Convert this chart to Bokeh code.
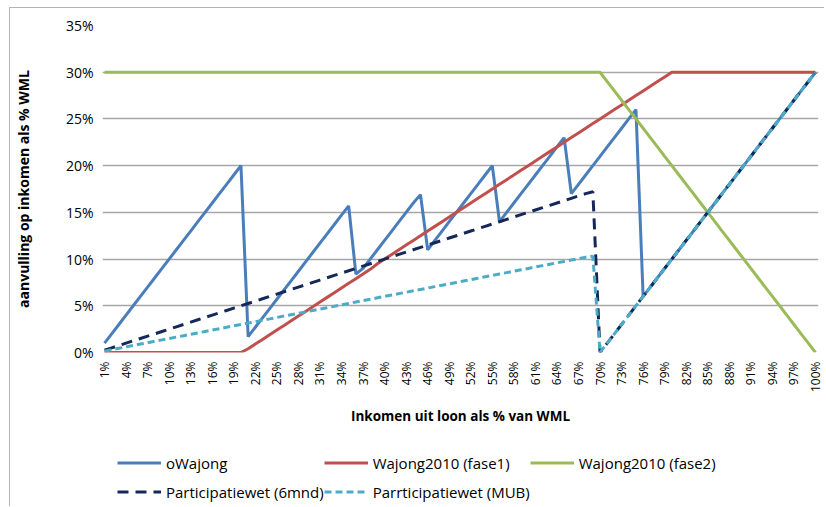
from bokeh.plotting import figure
from bokeh.layouts import column
from bokeh.models import (Range1d, FixedTicker, Legend, LegendItem, PrintfTickFormatter)
from bokeh.embed import file_html
from bokeh.resources import INLINE

# categories: income from wages as % of WML (1% .. 100%)
income_pct = list(range(1, 101))
x_ticks = [1, 4, 7, 10, 13, 16, 19, 22, 25, 28, 31, 34, 37, 40, 43, 46, 49, 52, 55,
           58, 61, 64, 67, 70, 73, 76, 79, 82, 85, 88, 91, 94, 97, 100]
y_ticks = [0, 5, 10, 15, 20, 25, 30, 35]

owajong = [
    1, 2, 3, 4, 5, 6, 7, 8, 9, 10, 11, 12, 13, 14, 15, 16, 17, 18, 19, 20,
    1.7, 2.7, 3.7, 4.7, 5.7, 6.7, 7.7, 8.7, 9.7, 10.7, 11.7, 12.7, 13.7, 14.7, 15.7,
    8.4, 9.0, 10.0, 11.0, 12.0, 13.0, 14.0, 15.0, 16.0, 16.9,
    11.0, 12.0, 13.0, 14.0, 15.0, 16.0, 17.0, 18.0, 19.0, 20.0,
    14.0, 15.0, 16.0, 17.0, 18.0, 19.0, 20.0, 21.0, 22.0, 23.0,
    17.0, 18.0, 19.0, 20.0, 21.0, 22.0, 23.0, 24.0, 25.0, 26.0,
    6, 7, 8, 9, 10, 11, 12, 13, 14, 15, 16, 17, 18, 19, 20, 21, 22, 23, 24, 25,
    26, 27, 28, 29, 30]

wajong2010_fase1 = [
    0, 0, 0, 0, 0, 0, 0, 0, 0, 0, 0, 0, 0, 0, 0, 0, 0, 0, 0, 0,
    0.4, 0.9, 1.4, 1.9, 2.4, 2.9, 3.4, 3.9, 4.4, 4.9, 5.4, 5.9, 6.4, 6.9, 7.4,
    7.9, 8.4, 8.9, 9.5, 10.0, 10.5, 11.0, 11.5, 12.0, 12.5, 13.0, 13.5, 14.0, 14.5, 15.0,
    15.5, 16.0, 16.5, 17.0, 17.5, 18.0, 18.5, 19.0, 19.5, 20.0, 20.5, 21.0, 21.5, 22.0, 22.5,
    23.0, 23.5, 24.0, 24.5, 25.0, 25.5, 26.0, 26.5, 27.0, 27.5, 28.0, 28.5, 29.0, 29.5, 30.0,
    30, 30, 30, 30, 30, 30, 30, 30, 30, 30, 30, 30, 30, 30, 30, 30, 30, 30, 30, 30]

wajong2010_fase2 = [
    30, 30, 30, 30, 30, 30, 30, 30, 30, 30, 30, 30, 30, 30, 30, 30, 30, 30, 30, 30,
    30, 30, 30, 30, 30, 30, 30, 30, 30, 30, 30, 30, 30, 30, 30, 30, 30, 30, 30, 30,
    30, 30, 30, 30, 30, 30, 30, 30, 30, 30, 30, 30, 30, 30, 30, 30, 30, 30, 30, 30,
    30, 30, 30, 30, 30, 30, 30, 30, 30, 30,
    29, 28, 27, 26, 25, 24, 23, 22, 21, 20, 19, 18, 17, 16, 15, 14, 13, 12, 11, 10,
    9, 8, 7, 6, 5, 4, 3, 2, 1, 0]

participatiewet_6mnd = [
    0.25, 0.5, 0.75, 1.0, 1.25, 1.5, 1.75, 2.0, 2.25, 2.5,
    2.75, 3.0, 3.25, 3.5, 3.75, 4.0, 4.25, 4.5, 4.75, 5.0,
    5.25, 5.5, 5.75, 6.0, 6.25, 6.5, 6.75, 7.0, 7.25, 7.5,
    7.75, 8.0, 8.25, 8.5, 8.75, 9.0, 9.25, 9.5, 9.75, 10.0,
    10.25, 10.5, 10.75, 11.0, 11.25, 11.5, 11.75, 12.0, 12.25, 12.5,
    12.75, 13.0, 13.25, 13.5, 13.75, 14.0, 14.25, 14.5, 14.75, 15.0,
    15.25, 15.5, 15.75, 16.0, 16.25, 16.5, 16.75, 17.0, 17.2,
    0, 1, 2, 3, 4, 5, 6, 7, 8, 9, 10, 11, 12, 13, 14, 15, 16, 17, 18, 19, 20,
    21, 22, 23, 24, 25, 26, 27, 28, 29, 30]

participatiewet_mub = [
    0.15, 0.3, 0.45, 0.6, 0.75, 0.9, 1.05, 1.2, 1.35, 1.5,
    1.65, 1.8, 1.95, 2.1, 2.25, 2.4, 2.55, 2.7, 2.85, 3.0,
    3.15, 3.3, 3.45, 3.6, 3.75, 3.9, 4.05, 4.2, 4.35, 4.5,
    4.65, 4.8, 4.95, 5.1, 5.25, 5.4, 5.55, 5.7, 5.85, 6.0,
    6.15, 6.3, 6.45, 6.6, 6.75, 6.9, 7.05, 7.2, 7.35, 7.5,
    7.65, 7.8, 7.95, 8.1, 8.25, 8.4, 8.55, 8.7, 8.85, 9.0,
    9.15, 9.3, 9.45, 9.6, 9.75, 9.9, 10.05, 10.2, 10.3,
    0, 1, 2, 3, 4, 5, 6, 7, 8, 9, 10, 11, 12, 13, 14, 15, 16, 17, 18, 19, 20,
    21, 22, 23, 24, 25, 26, 27, 28, 29, 30]

series_names = ["oWajong", "Wajong2010 (fase1)", "Wajong2010 (fase2)",
                "Participatiewet (6mnd)", "Parrticipatiewet (MUB)"]
series_values = [owajong, wajong2010_fase1, wajong2010_fase2,
                 participatiewet_6mnd, participatiewet_mub]
series_colors = ["#4a7ebb", "#c0504d", "#9bbb59", "#14285a", "#4bacc6"]
series_dash = ["solid", "solid", "solid", "11 7", "7 4"]

FONT = "Open Sans"

p = figure(width=814, height=422, output_backend="svg", toolbar_location=None,
           x_range=Range1d(0.72, 100.42), y_range=Range1d(0, 35),
           min_border_left=89, min_border_right=6, min_border_top=17, min_border_bottom=78)
p.outline_line_color = None
p.background_fill_color = "white"
p.border_fill_color = "white"

# axes
p.xaxis.ticker = FixedTicker(ticks=x_ticks)
p.xaxis.formatter = PrintfTickFormatter(format="%d%%")
p.xaxis.major_label_orientation = 1.5707963
p.xaxis.major_label_text_font = FONT
p.xaxis.major_label_text_font_size = "12px"
p.xaxis.major_label_text_color = "#000000"
p.xaxis.major_label_standoff = 9
p.xaxis.major_tick_out = 0
p.xaxis.major_tick_in = 0
p.xaxis.minor_tick_out = 0
p.xaxis.minor_tick_in = 0
p.xaxis.axis_line_color = None
p.xaxis.axis_label = "Inkomen uit loon als % van WML"
p.xaxis.axis_label_text_font = FONT
p.xaxis.axis_label_text_font_style = "bold"
p.xaxis.axis_label_text_font_size = "13.5px"
p.xaxis.axis_label_text_color = "#000000"
p.xaxis.axis_label_standoff = 12

p.yaxis.ticker = FixedTicker(ticks=y_ticks)
p.yaxis.formatter = PrintfTickFormatter(format="%d%%")
p.yaxis.major_label_text_font = FONT
p.yaxis.major_label_text_font_size = "14px"
p.yaxis.major_label_text_color = "#000000"
p.yaxis.major_label_standoff = 9
p.yaxis.major_tick_out = 0
p.yaxis.major_tick_in = 0
p.yaxis.minor_tick_out = 0
p.yaxis.minor_tick_in = 0
p.yaxis.axis_line_color = None
p.yaxis.axis_label = "aanvulling op inkomen als % WML"
p.yaxis.axis_label_text_font = FONT
p.yaxis.axis_label_text_font_style = "bold"
p.yaxis.axis_label_text_font_size = "14px"
p.yaxis.axis_label_text_color = "#000000"
p.yaxis.axis_label_standoff = 30

p.xgrid.grid_line_color = None
p.ygrid.ticker = FixedTicker(ticks=y_ticks)
p.ygrid.grid_line_color = "#a6a6a6"
p.ygrid.grid_line_width = 1.3

# series
for vals, col, dash in zip(series_values, series_colors, series_dash):
    p.line(income_pct, vals, line_color=col, line_width=3, line_dash=dash)

# legend strip below the chart (series drawn out of view, only the legend shows)
lg = figure(width=814, height=76, output_backend="svg", toolbar_location=None,
            x_range=Range1d(-2, -1), y_range=Range1d(0, 35),
            x_axis_type=None, y_axis_type=None,
            min_border_left=0, min_border_right=0, min_border_top=0, min_border_bottom=0)
lg.outline_line_color = None
lg.grid.grid_line_color = None
lg.border_fill_color = "white"
items = []
for name, vals, col, dash in zip(series_names, series_values, series_colors, series_dash):
    r = lg.line(income_pct, vals, line_color=col, line_width=3, line_dash=dash)
    items.append(LegendItem(label=name, renderers=[r]))

legend = Legend(items=items, ncols=3, orientation="horizontal", location=(15, 0))
legend.glyph_width = 44
legend.glyph_height = 29
legend.label_height = 29
legend.label_width = 154
legend.label_standoff = 5
legend.spacing = 0
legend.padding = 0
legend.margin = 0
legend.border_line_color = None
legend.background_fill_alpha = 0
legend.label_text_font = FONT
legend.label_text_font_size = "15px"
legend.label_text_color = "#000000"
lg.add_layout(legend, "center")

layout = column(p, lg, spacing=0,
                styles={"margin-left": "9px", "margin-top": "7px",
                        "border-left": "1px solid #b4b4b4",
                        "border-top": "1px solid #b4b4b4"})
open("out.html", "w").write(file_html(layout, INLINE))
